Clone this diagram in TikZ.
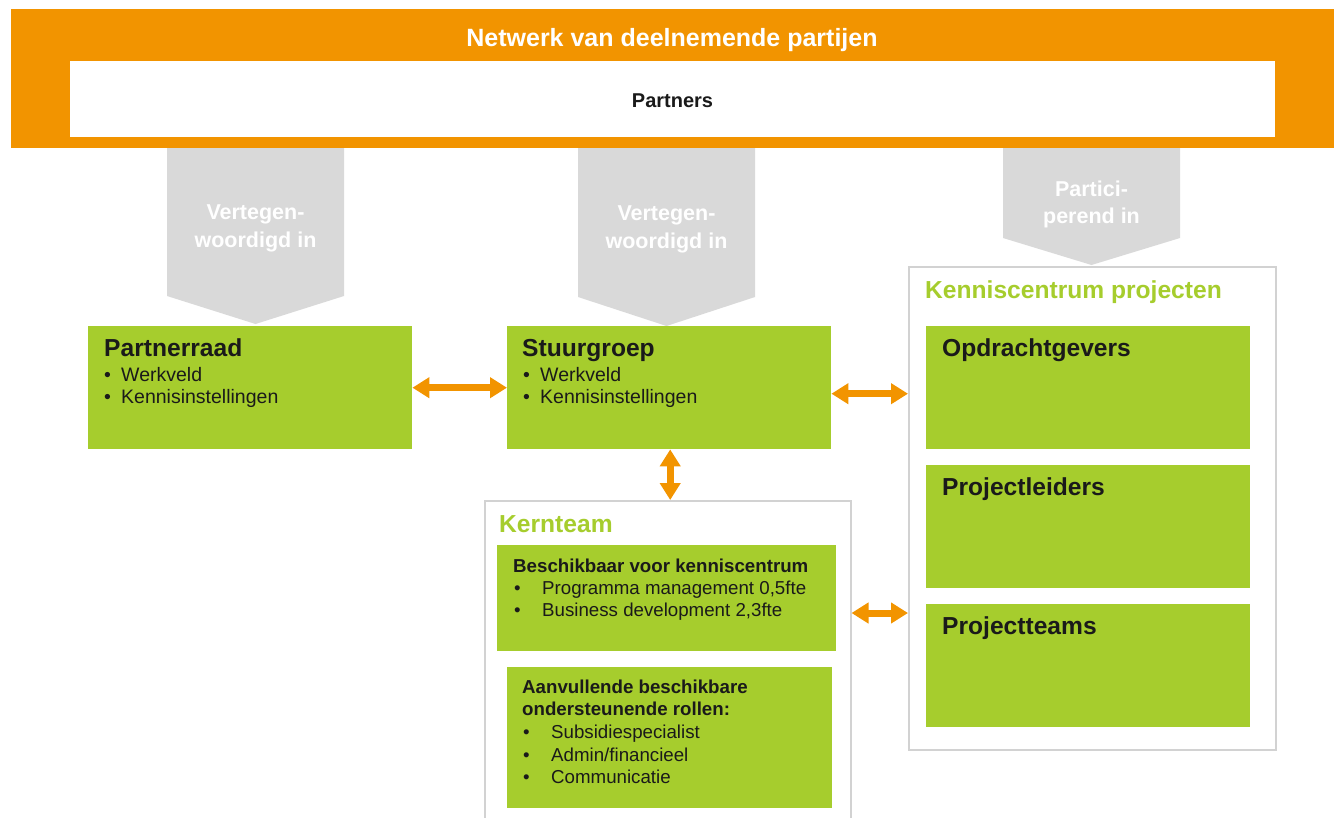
\documentclass[tikz,border=0pt]{standalone}
\usepackage{fontspec}
\setmainfont{Liberation Sans}
\usetikzlibrary{arrows.meta,calc}
\definecolor{orng}{HTML}{F29400}
\definecolor{grn}{HTML}{A6CD2D}
\definecolor{gry}{HTML}{D9D9D9}
\definecolor{brd}{HTML}{D2D2D2}
\definecolor{txt}{HTML}{1A1A1A}
\newcommand\fsz[1]{\fontsize{#1}{#1}\selectfont}
\begin{document}
\begin{tikzpicture}[x=1pt,y=-1pt,
  gbox/.style={fill=grn, inner sep=0, anchor=north west},
  panel/.style={draw=brd, line width=1.5pt, fill=white, inner sep=0, anchor=north west},
  ttl/.style={anchor=base west, inner sep=0, text=txt, font=\fsz{24.6}\bfseries},
  gttl/.style={anchor=base west, inner sep=0, text=grn, font=\fsz{24.6}\bfseries},
  body/.style={anchor=base west, inner sep=0, text=txt, font=\fsz{19.5}},
  kbody/.style={anchor=base west, inner sep=0, text=txt, font=\fsz{18.7}},
  kbold/.style={anchor=base west, inner sep=0, text=txt, font=\fsz{18.7}\bfseries},
  wtxt/.style={anchor=base, inner sep=0, text=white, font=\fsz{21.5}\bfseries},
  dbl/.style={draw=orng, line width=7pt, {Triangle[length=17pt,width=20pt]}-{Triangle[length=17pt,width=20pt]}},
  garrow/.style={fill=gry}
]
\useasboundingbox (0,0) rectangle (1338,817);
\clip (0,0) rectangle (1338,817);
% banner
\node[fill=orng, inner sep=0, anchor=north west, minimum width=1323, minimum height=139] (net) at (11,9) {};
\node[fill=white, inner sep=0, anchor=north west, minimum width=1205, minimum height=76] (partners) at (70,61) {};
\node[anchor=base, inner sep=0, text=white, font=\fsz{25}\bfseries] (netT) at (672,46) {Netwerk van deelnemende partijen};
\node[anchor=base, inner sep=0, text=txt, font=\fsz{20}\bfseries] (partT) at (672.5,107) {Partners};
% gray arrows
\fill[garrow] (167,148) -- (344,148) -- (344,296) -- (255.5,324) -- (167,296) -- cycle;
\node[wtxt] (g1a) at (255.5,219) {Vertegen-};
\node[wtxt] (g1b) at (255.5,247) {woordigd in};
\fill[garrow] (578,148) -- (755,148) -- (755,297) -- (666.5,326) -- (578,297) -- cycle;
\node[wtxt] (g2a) at (666.5,220) {Vertegen-};
\node[wtxt] (g2b) at (666.5,248) {woordigd in};
\fill[garrow] (1003,148) -- (1180,148) -- (1180,238) -- (1091.5,265) -- (1003,238) -- cycle;
\node[wtxt] (g3a) at (1091.5,196) {Partici-};
\node[wtxt] (g3b) at (1091.5,223) {perend in};
% Partnerraad
\node[gbox, minimum width=324, minimum height=123] (pr) at (88,326) {};
\node[ttl] (prT) at (104,356) {Partnerraad};
\node[body] (prb1) at (104,381) {•};
\node[body] (pr1) at (121,381) {Werkveld};
\node[body] (prb2) at (104,403) {•};
\node[body] (pr2) at (121,403) {Kennisinstellingen};
% Stuurgroep
\node[gbox, minimum width=324, minimum height=123] (sg) at (507,326) {};
\node[ttl] (sgT) at (522,356) {Stuurgroep};
\node[body] (sgb1) at (523,381) {•};
\node[body] (sg1) at (540,381) {Werkveld};
\node[body] (sgb2) at (523,403) {•};
\node[body] (sg2) at (540,403) {Kennisinstellingen};
% Kenniscentrum projecten panel
\node[panel, minimum width=367, minimum height=483] (kc) at (908,266) {};
\node[gttl] (kcT) at (925,298) {Kenniscentrum projecten};
\node[gbox, minimum width=324, minimum height=123] (op) at (926,326) {};
\node[ttl] (opT) at (942,356) {Opdrachtgevers};
\node[gbox, minimum width=324, minimum height=123] (pl) at (926,465) {};
\node[ttl] (plT) at (942,495) {Projectleiders};
\node[gbox, minimum width=324, minimum height=123] (pt) at (926,604) {};
\node[ttl] (ptT) at (942,634) {Projectteams};
% Kernteam panel
\node[panel, minimum width=366, minimum height=340] (kt) at (484,500) {};
\node[gttl] (ktT) at (499,532) {Kernteam};
\node[gbox, minimum width=339, minimum height=106] (k1) at (497,545) {};
\node[kbold] (k1T) at (513,572) {Beschikbaar voor kenniscentrum};
\node[kbody] (k1b1) at (514,594) {•};
\node[kbody] (k11) at (542,594) {Programma management 0,5fte};
\node[kbody] (k1b2) at (514,616) {•};
\node[kbody] (k12) at (542,616) {Business development 2,3fte};
\node[gbox, minimum width=325, minimum height=141] (k2) at (507,667) {};
\node[kbold] (k2T) at (522,693) {Aanvullende beschikbare};
\node[kbold] (k2T2) at (522,715) {ondersteunende rollen:};
\node[kbody] (k2b1) at (523,738) {•};
\node[kbody] (k21) at (551,738) {Subsidiespecialist};
\node[kbody] (k2b2) at (523,761) {•};
\node[kbody] (k22) at (551,761) {Admin/financieel};
\node[kbody] (k2b3) at (523,783) {•};
\node[kbody] (k23) at (551,783) {Communicatie};
% orange connectors
\coordinate (a2s) at ($(sg.east)+(0,6)$);
\coordinate (a2e) at (a2s -| kc.west);
\coordinate (a3s) at ($(sg.south)+(1,0)$);
\coordinate (a3e) at (a3s |- kt.north);
\coordinate (a4s) at ($(kt.north east)+(0,113)$);
\coordinate (a4e) at (a4s -| kc.west);
\draw[dbl] (pr.east) -- (sg.west);
\draw[dbl] (a2s) -- (a2e);
\draw[dbl] (a3s) -- (a3e);
\draw[dbl] (a4s) -- (a4e);
\end{tikzpicture}
\end{document}
